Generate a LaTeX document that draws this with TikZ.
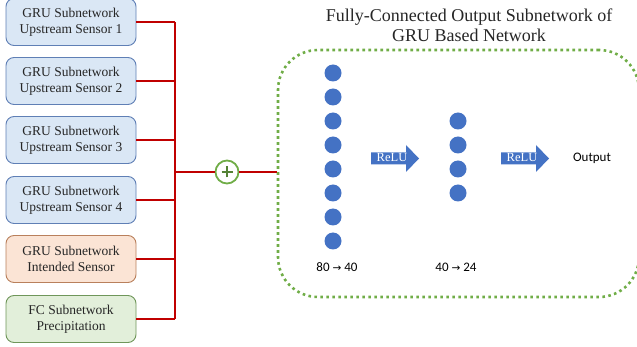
\documentclass[tikz,border=0pt]{standalone}
\usepackage{fontspec}
\setmainfont{Liberation Serif}
\newfontfamily\calib{Carlito}
\newfontfamily\dejavu{DejaVu Sans}
\definecolor{bluefill}{HTML}{DAE7F5}
\definecolor{blueline}{HTML}{5F7FB5}
\definecolor{orfill}{HTML}{FBE4D5}
\definecolor{orline}{HTML}{B9805C}
\definecolor{grfill}{HTML}{E2EFDA}
\definecolor{grline}{HTML}{6F965A}
\definecolor{busred}{HTML}{C00000}
\definecolor{dotgreen}{HTML}{70AD47}
\definecolor{plusgreen}{HTML}{548235}
\definecolor{neuron}{HTML}{4472C4}
\definecolor{textgray}{HTML}{262626}
\tikzset{
  inbox/.style={draw, rounded corners=8pt, line width=0.9pt, minimum width=130pt,
    minimum height=47pt, align=center, inner sep=0pt, text=textgray,
    font=\fontsize{13.5}{15.7}\selectfont},
  bluebox/.style={inbox, fill=bluefill, draw=blueline},
  orbox/.style={inbox, fill=orfill, draw=orline},
  grbox/.style={inbox, fill=grfill, draw=grline},
  bus/.style={draw=busred, line width=2pt},
  neur/.style={circle, fill=neuron, minimum size=17pt, inner sep=0pt},
  arrowbody/.style={fill=neuron},
  relutext/.style={text=white, font=\fontsize{12.5}{14}\selectfont, inner sep=0pt},
  sanslabel/.style={font=\calib\fontsize{13}{15}\selectfont, inner sep=0pt}
}
\begin{document}
\begin{tikzpicture}[x=1pt,y=-1pt]
\useasboundingbox (0,0) rectangle (637,347);
\clip (0,0) rectangle (637,347);

% input boxes
\node[bluebox] (b1) at (71,22) {GRU Subnetwork\\Upstream Sensor 1};
\node[bluebox] (b2) at (71,81) {GRU Subnetwork\\Upstream Sensor 2};
\node[bluebox] (b3) at (71,140) {GRU Subnetwork\\Upstream Sensor 3};
\node[bluebox] (b4) at (71,200) {GRU Subnetwork\\Upstream Sensor 4};
\node[orbox] (b5) at (71,259) {GRU Subnetwork\\Intended Sensor};
\node[grbox] (b6) at (71,319) {FC Subnetwork\\Precipitation};

% bus
\coordinate (busx) at (175,0);
\foreach \b in {b1,b2,b3,b4,b5,b6}{
  \draw[bus] (\b.east) -- (\b.east -| busx);
}
\draw[bus] (b1.east -| busx) -- (b6.east -| busx);

% sum node
\node[circle, draw=dotgreen, line width=1.8pt, minimum size=23pt, inner sep=0pt, fill=white] (sum) at (227,172) {};
\draw[plusgreen, line width=1.8pt] ([xshift=-5.5pt]sum.center) -- ([xshift=5.5pt]sum.center);
\draw[plusgreen, line width=1.8pt] ([yshift=-5.5pt]sum.center) -- ([yshift=5.5pt]sum.center);
\coordinate (busmid) at (175,172);
\draw[bus] (busmid) -- (sum.west);

% FC dotted box
\node[draw=dotgreen, line width=2.6pt, dash pattern=on 2.6pt off 3.4pt, rounded corners=40pt,
  minimum width=361pt, minimum height=247pt, inner sep=0pt] (fc) at (458.5,173.5) {};
\draw[bus] (sum.east) -- (sum.east -| fc.west);

% title
\node[align=center, text=textgray, font=\fontsize{18}{20}\selectfont] (title) at (469,25) {Fully-Connected Output Subnetwork of\\GRU Based Network};

% neurons
\foreach \k in {0,...,7}{
  \node[neur] (n1\k) at (333,{73+24*\k}) {};
}
\foreach \k in {0,...,3}{
  \node[neur] (n2\k) at (458,{121+24*\k}) {};
}

% ReLU arrows
\fill[arrowbody] (371,152.5) -- (406,152.5) -- (406,145) -- (419,158.5) -- (406,172) -- (406,164.5) -- (371,164.5) -- cycle;
\node[relutext] (relu1) at (392,157) {ReLU};
\fill[arrowbody] (501,152.5) -- (536,152.5) -- (536,145) -- (549,158.5) -- (536,172) -- (536,164.5) -- (501,164.5) -- cycle;
\node[relutext] (relu2) at (522,157) {ReLU};

\node[sanslabel] (out) at (592,158) {Output};
\node[sanslabel] (l1) at (337,267) {80 {\dejavu\fontsize{10.5}{12}\selectfont →} 40};
\node[sanslabel] (l2) at (456,267) {40 {\dejavu\fontsize{10.5}{12}\selectfont →} 24};
\end{tikzpicture}
\end{document}
